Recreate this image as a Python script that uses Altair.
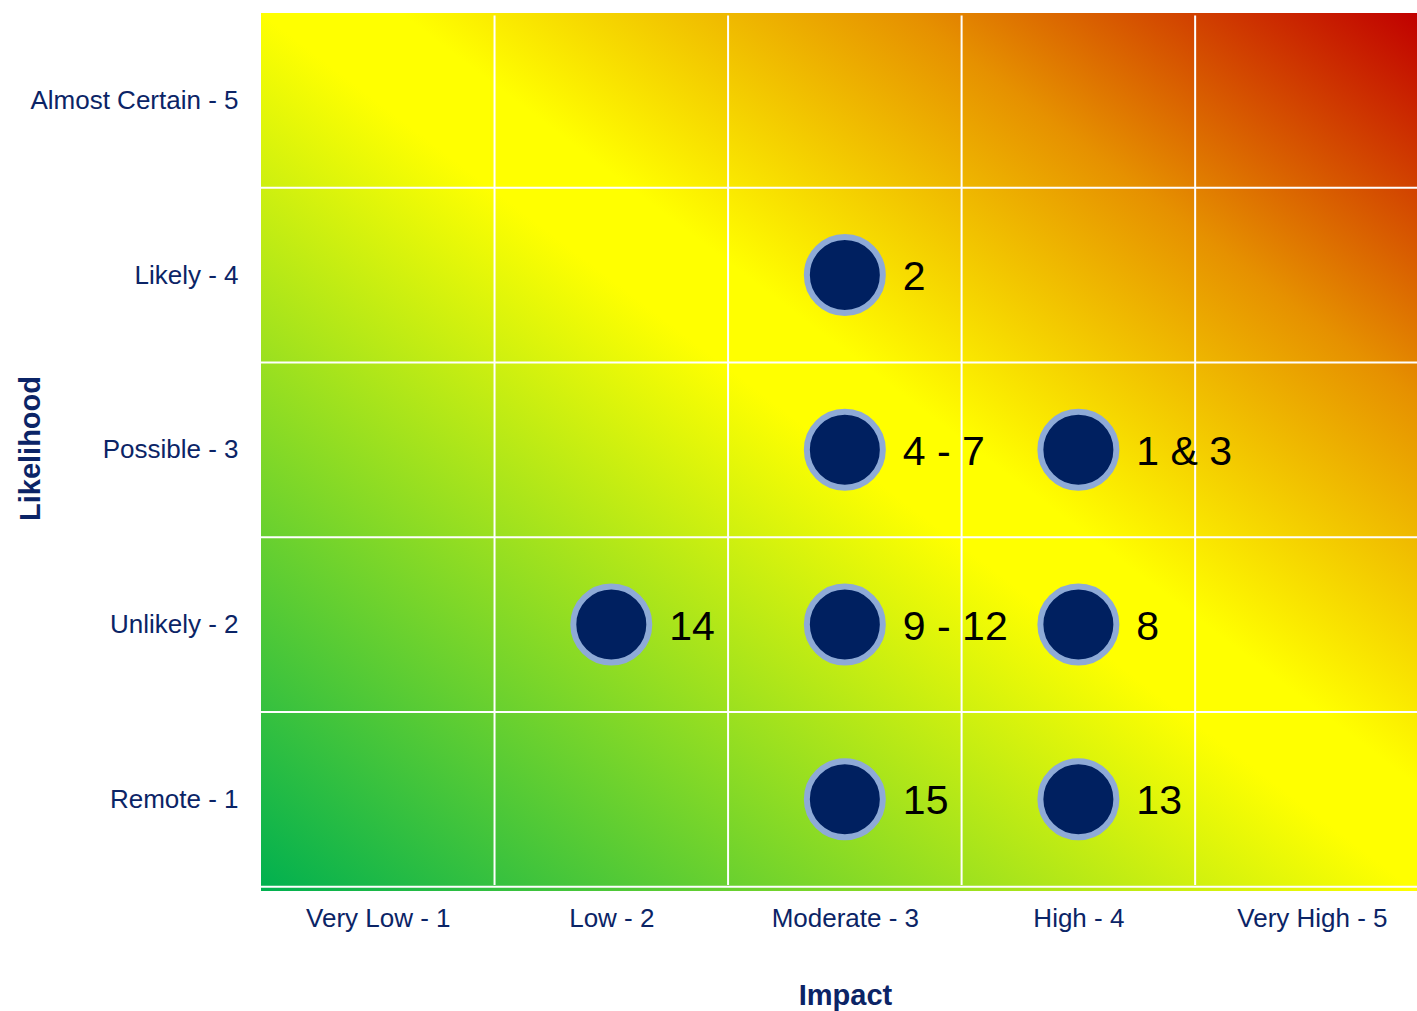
import altair as alt
import pandas as pd

# Axis categories
impact_labels = ["Very Low - 1", "Low - 2", "Moderate - 3", "High - 4", "Very High - 5"]
likelihood_labels = ["Remote - 1", "Unlikely - 2", "Possible - 3", "Likely - 4", "Almost Certain - 5"]
levels = [1, 2, 3, 4, 5]

# Risks plotted on the matrix (impact, likelihood, risk reference numbers)
risk_impact = [3, 3, 4, 2, 3, 4, 3, 4]
risk_likelihood = [4, 3, 3, 2, 2, 2, 1, 1]
risk_ids = ["2", "4 - 7", "1 & 3", "14", "9 - 12", "8", "15", "13"]

# Cell boundaries of the 5x5 grid
cell_edges = [1.5, 2.5, 3.5, 4.5]
row_edges = [0.5, 1.5, 2.5, 3.5, 4.5]

X_DOMAIN = [0.5, 5.45]
Y_DOMAIN = [0.475, 5.5]

NAVY = "#0b2466"
FONT = "Liberation Sans"

risks = pd.DataFrame({"impact": risk_impact, "likelihood": risk_likelihood, "ids": risk_ids})
field = pd.DataFrame({"x0": [X_DOMAIN[0]], "x1": [X_DOMAIN[1]], "y0": [Y_DOMAIN[0]], "y1": [Y_DOMAIN[1]]})
vlines = pd.DataFrame({"x": cell_edges, "y0": 0.51, "y1": 5.485})
hlines = pd.DataFrame({"y": row_edges, "x0": X_DOMAIN[0], "x1": X_DOMAIN[1]})

def label_expr(labels):
    arr = ",".join("'" + s + "'" for s in [""] + labels)
    return "[" + arr + "][datum.value]"

x_scale = alt.Scale(domain=X_DOMAIN, nice=False, zero=False)
y_scale = alt.Scale(domain=Y_DOMAIN, nice=False, zero=False)

x_axis = alt.Axis(
    values=levels, labelExpr=label_expr(impact_labels), ticks=False, domain=False, grid=False,
    labelFont=FONT, labelFontSize=26, labelColor=NAVY, labelPadding=27, labelBaseline="middle",
    labelLimit=0,
    title="Impact", titleFont=FONT, titleFontSize=29, titleFontWeight="bold", titleColor=NAVY,
    titleX=584, titleY=104, titleAlign="center", titleBaseline="middle",
)
y_axis = alt.Axis(
    values=levels, labelExpr=label_expr(likelihood_labels), ticks=False, domain=False, grid=False,
    labelFont=FONT, labelFontSize=26, labelColor=NAVY, labelPadding=23, labelLimit=0,
    title="Likelihood", titleFont=FONT, titleFontSize=29, titleFontWeight="bold", titleColor=NAVY,
    titleX=-231, titleY=435, titleAngle=270, titleAlign="center", titleBaseline="middle",
)

# Green -> yellow -> red risk gradient running from the bottom-left to the top-right corner
heat = alt.LinearGradient(
    gradient="linear",
    stops=[
        alt.GradientStop(offset=0, color="#00b050"),
        alt.GradientStop(offset=0.5, color="#ffff00"),
        alt.GradientStop(offset=0.56, color="#ffff00"),
        alt.GradientStop(offset=0.78, color="#e69100"),
        alt.GradientStop(offset=1, color="#c00000"),
    ],
    x1=0, y1=1, x2=1, y2=0,
)

background = alt.Chart(field).mark_rect(color=heat).encode(
    x=alt.X("x0:Q", scale=x_scale, axis=x_axis),
    x2="x1",
    y=alt.Y("y0:Q", scale=y_scale, axis=y_axis),
    y2="y1",
)

grid_v = alt.Chart(vlines).mark_rule(color="white", strokeWidth=2).encode(
    x=alt.X("x:Q", scale=x_scale), y=alt.Y("y0:Q", scale=y_scale), y2="y1"
)
grid_h = alt.Chart(hlines).mark_rule(color="white", strokeWidth=2).encode(
    y=alt.Y("y:Q", scale=y_scale), x=alt.X("x0:Q", scale=x_scale), x2="x1"
)

dots = alt.Chart(risks).mark_circle(
    fill="#002060", stroke="#8eaad6", strokeWidth=6, size=5776, opacity=1, strokeOpacity=1
).encode(
    x=alt.X("impact:Q", scale=x_scale),
    y=alt.Y("likelihood:Q", scale=y_scale),
)

labels = alt.Chart(risks).mark_text(
    align="left", baseline="middle", dx=58, dy=3, fontSize=41, font=FONT, color="black"
).encode(
    x=alt.X("impact:Q", scale=x_scale),
    y=alt.Y("likelihood:Q", scale=y_scale),
    text="ids:N",
)

chart = alt.layer(background, grid_v, grid_h, dots, labels).properties(
    width=1156,
    height=878,
    autosize=alt.AutoSizeParams(type="none"),
    padding={"left": 261, "top": 13, "right": 0, "bottom": 120},
    background="white",
).configure_view(stroke=None)

chart.save("out.html", embed_options={"renderer": "svg", "actions": False})
